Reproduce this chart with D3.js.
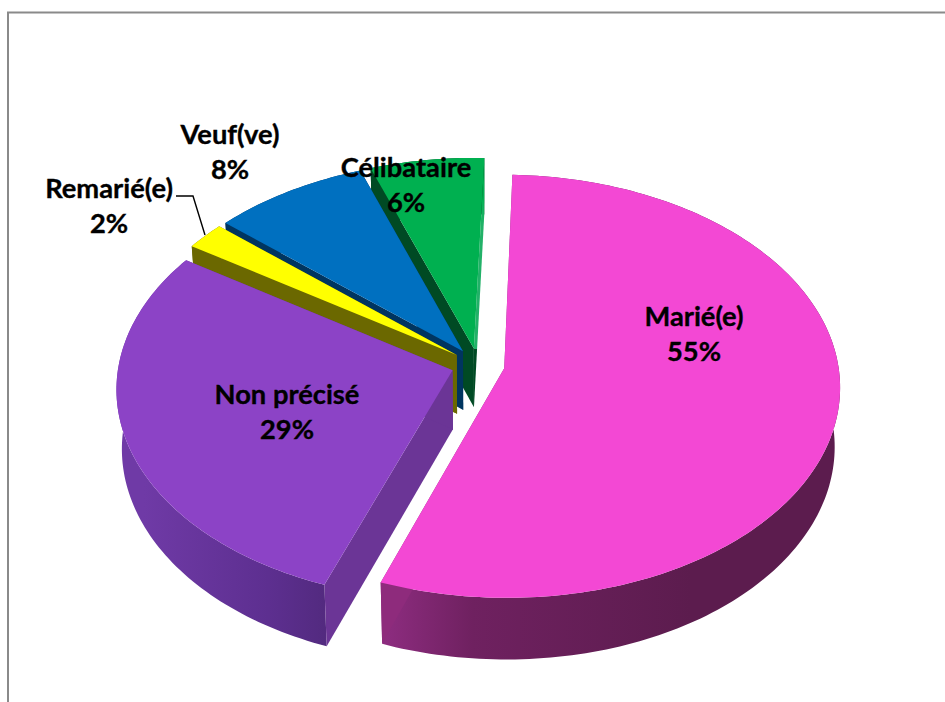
<!DOCTYPE html>
<html>
<head>
<meta charset="utf-8">
<script src="https://cdnjs.cloudflare.com/ajax/libs/d3/7.8.5/d3.min.js"></script>
<style>
html,body{margin:0;padding:0;background:#fff}
svg{display:block}
text{font-family:Lato,Carlito,Calibri,sans-serif;font-weight:700;fill:#000;stroke:#000;stroke-width:.35px}
</style>
</head>
<body>
<svg id="chart" width="945" height="702"></svg>
<script>
const categories = ["Marié(e)", "Non précisé", "Remarié(e)", "Veuf(ve)", "Célibataire"];
const percents = [55.1, 28.6, 2.1, 8.2, 6];
const percentLabels = ["55%", "29%", "2%", "8%", "6%"];

const topColors = ["#f348d4", "#8c43c6", "#ffff00", "#0070c0", "#00b050"];
const cutColors = ["#8e2b7c", "#6b3596", "#6b6800", "#003560", "#004a24"];
const wallStops = [
  [["0", "#97308a"], ["0.35", "#6f2160"], ["1", "#5c1c4e"]],
  [["0", "#6f3aa6"], ["0.6", "#5d2f90"], ["1", "#4e2878"]],
  [["0", "#6b6800"], ["1", "#6b6800"]],
  [["0", "#003560"], ["1", "#003560"]],
  [["0", "#004a24"], ["1", "#004a24"]]
];
const labelAnchors = [[694, 316], [287, 394], [109, 188], [230, 134], [406, 167]];
const leaderPath = [[176, 196], [193, 196], [205, 235]];

const svg = d3.select("#chart");

// frame
svg.append("path").attr("d", "M8,702V12.5H945").attr("fill", "none")
  .attr("stroke", "#8a8a8a").attr("stroke-width", 2);

// projection of the tilted pie plane with a slight perspective
const startAngle = 1.9 * Math.PI / 180;
const explode = 0.08, persp = 0.085, depth = 57.5;
const px = d3.scaleLinear().domain([-1, 1]).range([478 - 334, 478 + 334]);
const py = d3.scaleLinear().domain([-1, 1]).range([365 - 209.5, 365 + 209.5]);
function project(X, Y, low) {
  const s = 1 / (1 - persp * Y);
  const k = low ? 0.985 : 1;
  const cx = px(0), cy = py(0);
  return [cx + (px(X) - cx) * s * k, cy + (py(Y) - cy) * s + (low ? depth * Math.sqrt(s) + 1.5 : 0)];
}

const pie = d3.pie().sort(null).value(d => d)
  .startAngle(startAngle).endAngle(startAngle + 2 * Math.PI);
const arcs = pie(percents);
const line = d3.line();

const defs = svg.append("defs");
wallStops.forEach((stops, i) => {
  const g = defs.append("linearGradient").attr("id", "wall" + i)
    .attr("gradientUnits", "userSpaceOnUse");
  if (i === 0) g.attr("x1", project(-0.34, 0.94)[0]).attr("x2", project(0.6, 0.7)[0]);
  else g.attr("x1", project(-1, 0)[0]).attr("x2", project(-0.35, 0.94)[0]);
  g.attr("y1", 0).attr("y2", 0);
  stops.forEach(s => g.append("stop").attr("offset", s[0]).attr("stop-color", s[1]));
});

// painter's order: from the back slices to the front ones
const order = [4, 3, 2, 0, 1];
order.forEach(i => {
  const a = arcs[i];
  const mid = (a.startAngle + a.endAngle) / 2;
  const ox = Math.sin(mid) * explode, oy = -Math.cos(mid) * explode;
  const n = Math.max(8, Math.ceil((a.endAngle - a.startAngle) / 0.02));
  const angles = d3.range(n + 1).map(j => a.startAngle + (a.endAngle - a.startAngle) * j / n);
  const rimTop = angles.map(t => project(ox + Math.sin(t), oy - Math.cos(t), false));
  const rimLow = angles.map(t => project(ox + Math.sin(t), oy - Math.cos(t), true));
  const apexTop = project(ox, oy, false), apexLow = project(ox, oy, true);
  const g = svg.append("g").attr("class", "slice").datum(categories[i]);

  // outer wall
  g.append("path").attr("d", line(rimTop.concat(rimLow.slice().reverse())) + "Z")
    .attr("fill", `url(#wall${i})`);
  // cut walls
  let endFill = cutColors[i];
  if (i === 4) {
    // the right-hand cut of the last slice catches the light above its apex
    const split = (apexTop[1] - rimTop[n][1]) / (apexLow[1] - rimTop[n][1]);
    const lg = defs.append("linearGradient").attr("id", "lastCut")
      .attr("gradientUnits", "userSpaceOnUse")
      .attr("x1", 0).attr("x2", 0).attr("y1", rimTop[n][1]).attr("y2", apexLow[1]);
    [[0, "#00b050"], [split * 0.2, "#00b050"], [split * 0.35, "#22b168"],
     [split, "#22b168"], [split, cutColors[i]], [1, cutColors[i]]]
      .forEach(s => lg.append("stop").attr("offset", s[0]).attr("stop-color", s[1]));
    endFill = "url(#lastCut)";
  }
  g.append("path").attr("d", line([apexTop, rimTop[0], rimLow[0], apexLow]) + "Z").attr("fill", cutColors[i]);
  g.append("path").attr("d", line([apexTop, rimTop[n], rimLow[n], apexLow]) + "Z").attr("fill", endFill);
  // top face
  g.append("path").attr("d", line([apexTop].concat(rimTop)) + "Z").attr("fill", topColors[i]);
});

// leader line
svg.append("path").attr("d", line(leaderPath)).attr("fill", "none")
  .attr("stroke", "#000").attr("stroke-width", 1.4);

// labels
const labels = svg.append("g").selectAll("g").data(categories).join("g")
  .attr("transform", (d, i) => `translate(${labelAnchors[i][0]},${labelAnchors[i][1]})`);
labels.append("text").attr("text-anchor", "middle").attr("dy", "0.35em")
  .attr("font-size", 27.3).text(d => d);
labels.append("text").attr("text-anchor", "middle").attr("y", 35.5).attr("dy", "0.35em")
  .attr("font-size", 27.3).text((d, i) => percentLabels[i]);
</script>
</body>
</html>
